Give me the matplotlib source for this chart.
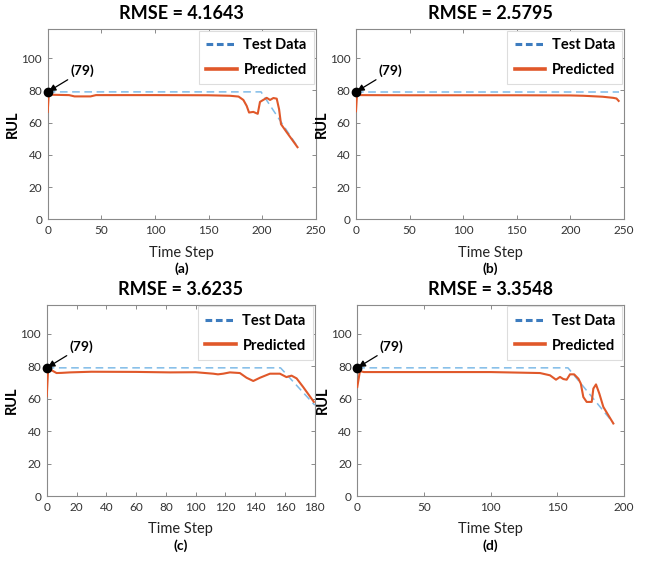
import matplotlib
matplotlib.use('Agg')
import matplotlib.pyplot as plt
from matplotlib.lines import Line2D

plt.rcParams['font.family'] = ['Lato', 'DejaVu Sans']

############################################################

# Panel titles / labels
rmse_values = ['4.1643', '2.5795', '3.6235', '3.3548']
panel_tags  = ['(a)', '(b)', '(c)', '(d)']
x_limits    = [250, 250, 180, 200]
x_ticks     = [[0, 50, 100, 150, 200, 250],
               [0, 50, 100, 150, 200, 250],
               [0, 20, 40, 60, 80, 100, 120, 140, 160, 180],
               [0, 50, 100, 150, 200]]
y_ticks     = [0, 20, 40, 60, 80, 100]
start_rul   = 79

# Test data (knots of the true RUL curve)
test_a_x = [0, 199, 233]
test_a_y = [79, 79, 45]
test_b_x = [0, 245]
test_b_y = [79, 79]
test_c_x = [0, 157, 180]
test_c_y = [79, 79, 56]
test_d_x = [0, 158, 192]
test_d_y = [79, 79, 45]

# Predicted RUL
pred_a_x = [0, 1, 5, 20, 25, 40, 45, 100, 150, 170, 178, 182.5, 185.6, 187.8, 191.8, 195.9,
            198, 201, 204.3, 207.4, 210.5, 213.6, 215.8, 217.6, 223, 233]
pred_a_y = [66.6, 77.8, 77.2, 77, 76.2, 76.2, 77, 77, 76.9, 76.6, 76.1, 74, 70.3, 66.2, 66.6, 65.4,
            72.8, 74, 75.3, 74, 75.2, 74.8, 68.3, 59, 53.9, 44.7]

pred_b_x = [0, 1, 4, 50, 100, 150, 200, 212, 230, 240, 243, 245]
pred_b_y = [67, 77.8, 77, 76.9, 76.9, 76.9, 76.8, 76.6, 76, 75.3, 74.9, 73.4]

pred_c_x = [0, 1, 2.5, 6.6, 10, 15.6, 30, 60, 82.8, 100, 111.8, 115, 118.5, 123, 129.7, 134.2,
            138.7, 143.2, 149.9, 156.6, 161, 164.4, 167.8, 172.2, 179.4]
pred_c_y = [61.5, 79.2, 77.9, 75.8, 75.9, 76.2, 76.6, 76.5, 76.2, 76.3, 75.4, 75, 75.4, 76.2, 75.8,
            72.9, 70.9, 72.9, 75.4, 75.4, 73.3, 74.2, 72.5, 67.2, 58]

pred_d_x = [0, 2, 5, 50, 100, 137, 144.5, 149, 152, 154.5, 157, 159.5, 162.6, 165.8, 167.6,
            169.5, 172, 175.8, 177, 179, 181.5, 184.5, 192]
pred_d_y = [67.2, 77, 76.4, 76.4, 76.4, 75.8, 74.4, 71.7, 73.4, 72.1, 71.7, 75, 75, 72.3, 69.3,
            61, 58, 58, 66.2, 68.8, 63.1, 54.9, 44.7]

tests = [(test_a_x, test_a_y), (test_b_x, test_b_y), (test_c_x, test_c_y), (test_d_x, test_d_y)]
preds = [(pred_a_x, pred_a_y), (pred_b_x, pred_b_y), (pred_c_x, pred_c_y), (pred_d_x, pred_d_y)]

############################################################

blue_line = '#7fbbe8'
blue_leg  = '#3d7cbf'
red_line  = '#e0582a'
spine_col = '#8a8a8a'

# axes rectangles [left, bottom, width, height]
positions = [[0.0735, 0.6105, 0.413, 0.338],
             [0.5485, 0.6105, 0.413, 0.338],
             [0.0720, 0.1190, 0.413, 0.340],
             [0.5505, 0.1190, 0.411, 0.340]]

fig = plt.figure(figsize=(6.49, 5.63), dpi=100, facecolor='white')

for i in range(4):
	ax = fig.add_axes(positions[i])

	tx, ty = tests[i]
	px, py = preds[i]

	ax.plot(tx, ty, color=blue_line, lw=1.1, ls=(0, (5, 3)), zorder=2)
	ax.plot(px, py, color=red_line, lw=1.5, zorder=3)

	# starting point marker and annotation
	ax.plot(0, start_rul, 'o', color='black', ms=6, clip_on=False, zorder=5)
	ax.annotate('(%d)' % start_rul, xy=(0, start_rul), xycoords='data',
		xytext=(0.085, 0.78), textcoords='axes fraction',
		fontsize=10, fontweight='bold', ha='left', va='center',
		arrowprops=dict(arrowstyle='-|>', color='black', lw=0.9, mutation_scale=10,
			shrinkA=0, shrinkB=1))

	ax.set_xlim(0, x_limits[i])
	ax.set_ylim(0, 118)
	ax.set_xticks(x_ticks[i])
	ax.set_yticks(y_ticks)

	for s in ax.spines.values():
		s.set_color(spine_col)
		s.set_linewidth(0.8)
	ax.tick_params(direction='in', length=3, width=0.7, color=spine_col,
		top=True, right=True, labelsize=8.5, labelcolor='#333333', pad=4)

	ax.set_title('RMSE = ' + rmse_values[i], fontsize=13, fontweight='bold', pad=7)
	ax.set_ylabel('RUL', fontsize=10.5, fontweight='bold', labelpad=1)
	ax.set_xlabel('Time Step', fontsize=10.5, labelpad=7, color='#222222')
	ax.text(0.5, -0.258, panel_tags[i], transform=ax.transAxes, ha='center', va='center',
		fontsize=10, fontweight='bold')

	# legend with heavier lines than the plotted curves
	handles = [Line2D([], [], color=blue_leg, lw=2.2, ls=(0, (2.2, 1.2))),
		Line2D([], [], color=red_line, lw=2.6)]
	leg = ax.legend(handles, ['Test Data', 'Predicted'], loc='upper right',
		prop={'weight': 'bold', 'size': 10.5}, handlelength=2.1, handletextpad=0.45,
		borderpad=0.5, labelspacing=0.75, borderaxespad=0.12, fancybox=False,
		edgecolor='#dddddd', framealpha=1)
	leg.get_frame().set_linewidth(0.8)

############################################################

plt.savefig('out.png', dpi=100, facecolor='white')
